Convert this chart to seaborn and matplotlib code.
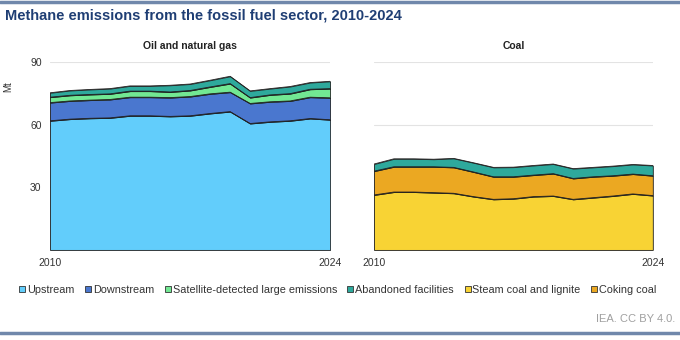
import numpy as np
import pandas as pd
import matplotlib
matplotlib.use("Agg")
import matplotlib.pyplot as plt
from matplotlib.lines import Line2D
import seaborn as sns

years = list(range(2010, 2025))

# Oil and natural gas (Mt)
upstream = [61.8, 62.6, 63.0, 63.2, 64.2, 64.2, 63.9, 64.2, 65.3, 66.2, 60.5, 61.3, 61.8, 62.9, 62.3]
downstream = [8.7, 8.7, 8.7, 8.8, 8.9, 8.9, 9.0, 9.2, 9.4, 9.3, 9.6, 9.6, 9.5, 10.2, 10.5]
satellite = [2.6, 2.7, 2.7, 2.7, 2.9, 2.9, 2.7, 2.9, 3.3, 4.1, 2.8, 3.3, 3.5, 3.8, 4.4]
abandoned_og = [2.1, 2.3, 2.4, 2.5, 2.5, 2.5, 3.2, 3.1, 3.2, 3.5, 3.2, 3.0, 3.4, 3.2, 3.5]

# Coal (Mt)
steam = [26.3, 27.7, 27.7, 27.4, 27.1, 25.5, 24.2, 24.5, 25.5, 25.8, 24.2, 25.0, 25.8, 26.8, 26.0]
coking = [11.4, 12.1, 12.1, 12.4, 12.4, 11.8, 10.8, 10.5, 10.3, 10.7, 10.0, 10.0, 9.7, 9.5, 9.5]
abandoned_coal = [3.4, 3.8, 3.8, 3.6, 4.3, 4.4, 4.5, 4.6, 4.6, 4.6, 4.7, 4.5, 4.6, 4.6, 4.9]

panel_titles = ["Oil and natural gas", "Coal"]
legend_labels = ["Upstream", "Downstream", "Satellite-detected large emissions",
                 "Abandoned facilities", "Steam coal and lignite", "Coking coal"]
y_ticks = [30, 60, 90]
x_ticks = [2010, 2024]

c_up = "#62cdfb"
c_down = "#4a77cf"
c_sat = "#72e893"
c_aband = "#2ea99c"
c_steam = "#f8d334"
c_coke = "#eba822"

sns.set_theme(style="white")
plt.rcParams["font.family"] = ["Liberation Sans", "DejaVu Sans"]

fig = plt.figure(figsize=(6.8, 3.4), dpi=100)
ax1 = fig.add_axes([0.0735, 0.265, 0.412, 0.553])
ax2 = fig.add_axes([0.55, 0.265, 0.41, 0.553])

og = pd.DataFrame({"year": years, "Upstream": upstream, "Downstream": downstream,
                   "Satellite": satellite, "Abandoned": abandoned_og})
coal = pd.DataFrame({"year": years, "Steam": steam, "Coking": coking,
                     "Abandoned": abandoned_coal})

def draw(ax, df, cols, colors, title):
    ax.stackplot(df["year"], *[df[c] for c in cols], colors=colors,
                 edgecolor="#1a1a1a", linewidth=0.6, zorder=2)
    cum = df[cols].cumsum(axis=1)
    for c in cols:
        sns.lineplot(x=df["year"], y=cum[c], ax=ax, color="#222222",
                     linewidth=0.6, zorder=3)
    ax.set_xlim(2010, 2024)
    ax.set_ylim(0, 90)
    ax.set_yticks(y_ticks)
    ax.set_xticks(x_ticks)
    ax.grid(axis="y", color="#e3e3e3", linewidth=0.8, zorder=0)
    ax.set_axisbelow(True)
    for s in ax.spines.values():
        s.set_visible(False)
    ax.tick_params(axis="both", length=0, labelsize=7.5, colors="#333333", pad=6)
    ax.set_xlabel("")
    ax.set_ylabel("")
    ax.set_title(title, fontsize=7.5, fontweight="bold", color="#222222", pad=9)

draw(ax1, og, ["Upstream", "Downstream", "Satellite", "Abandoned"],
     [c_up, c_down, c_sat, c_aband], panel_titles[0])
draw(ax2, coal, ["Steam", "Coking", "Abandoned"],
     [c_steam, c_coke, c_aband], panel_titles[1])
ax2.set_yticklabels([])
ax1.set_ylabel("Mt", fontsize=7, color="#333333", labelpad=2)
ax1.yaxis.set_label_coords(-0.13, 0.87)

# legend
leg_colors = [c_up, c_down, c_sat, c_aband, c_steam, c_coke]
handles = [Line2D([0], [0], marker="s", linestyle="none", markersize=5,
                  markerfacecolor=c, markeredgecolor="#333333", markeredgewidth=0.6)
           for c in leg_colors]
fig.legend(handles, legend_labels, loc="center left", bbox_to_anchor=(0.012, 0.148),
           ncol=6, frameon=False, fontsize=7.8, handletextpad=0.05, columnspacing=0.85,
           handlelength=0.8, labelcolor="#333333")

fig.text(0.008, 0.953, "Methane emissions from the fossil fuel sector, 2010-2024",
         fontsize=10.5, fontweight="bold", color="#1f3e74", ha="left", va="center")
fig.text(0.993, 0.063, "IEA. CC BY 4.0.", fontsize=8, color="#a0a0a0",
         ha="right", va="center")

fig.add_artist(Line2D([0, 1], [0.995, 0.995], color="#7088ab", linewidth=2.5))
fig.add_artist(Line2D([0, 1], [0.02, 0.02], color="#7088ab", linewidth=2.5))

fig.savefig("out.png", dpi=100)
